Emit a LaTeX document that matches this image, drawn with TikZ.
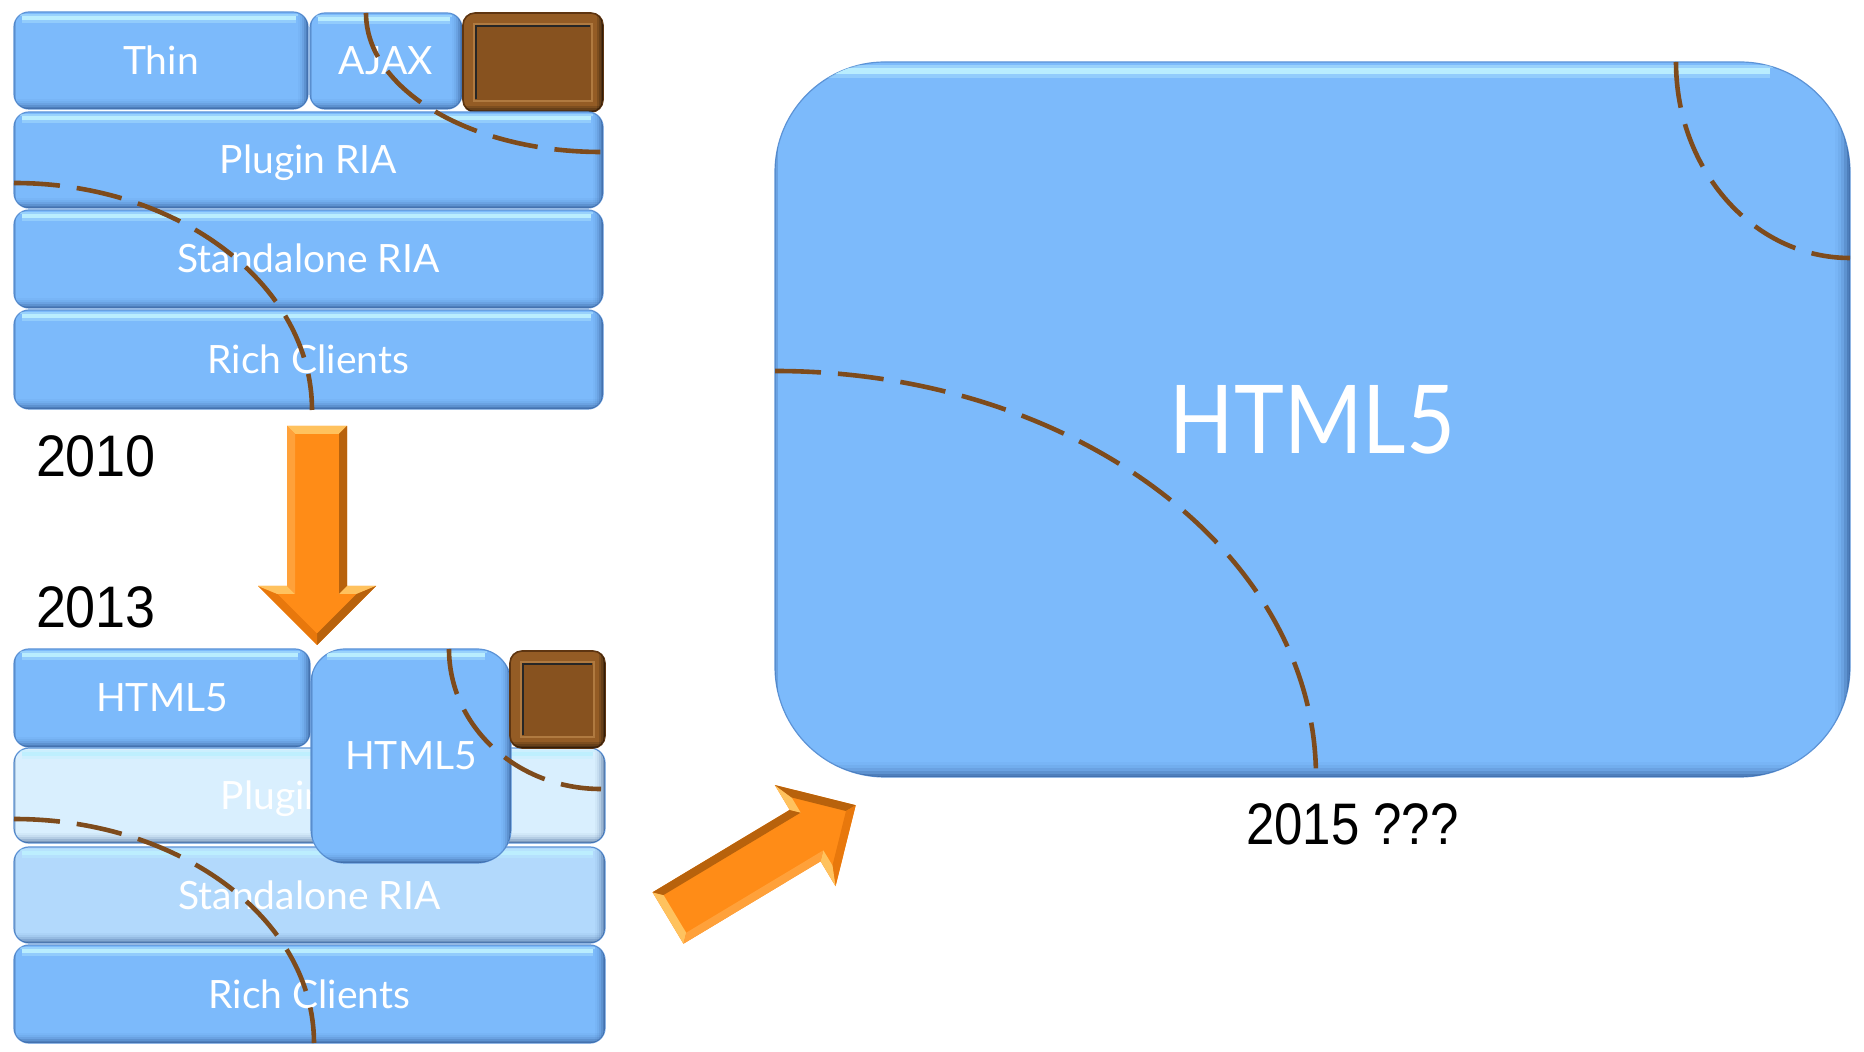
\documentclass[tikz,border=0pt]{standalone}
\usepackage{fontspec}
\setmainfont{Lato}
\newfontfamily\tilefont{Lato}
\newfontfamily\bigfont[FakeStretch=0.89]{Lato}
\newfontfamily\yearfont[FakeStretch=0.92]{Liberation Sans}
\newfontfamily\questfont[FakeStretch=0.87]{Liberation Sans}

\definecolor{tileblue}{HTML}{7CBAFB}
\definecolor{palest}{HTML}{D9EFFE}
\definecolor{pale}{HTML}{B2D9FC}
\definecolor{tileline}{HTML}{5C93D6}
\definecolor{tiledark}{HTML}{22467E}
\definecolor{tilehi}{HTML}{BDF0FF}
\definecolor{brownframe}{HTML}{945C25}
\definecolor{brownface}{HTML}{87521F}
\definecolor{brownline}{HTML}{5E3511}
\definecolor{brownlight}{HTML}{B07A40}
\definecolor{dashbrown}{HTML}{7E4B1C}
\definecolor{arrface}{HTML}{FF8C17}
\definecolor{arrlight}{HTML}{FFC25E}
\definecolor{arrsoft}{HTML}{FFA13A}
\definecolor{arrmid}{HTML}{E8780C}
\definecolor{arrdark}{HTML}{B8620C}

\tikzset{
  tilenode/.style={inner sep=0pt, outer sep=0pt, draw=tileline, line width=0.6pt,
    text=white, font=\tilefont\fontsize{19.5}{20}\selectfont,
    text height=14pt, text depth=0pt},
  dasharc/.style={draw=dashbrown, line width=2.3pt, dash pattern=on 23pt off 8.5pt},
  year/.style={inner sep=0pt, outer sep=0pt, text=black,
    font=\yearfont\fontsize{29.3}{30}\selectfont},
}

% bevelled tile: name, options, x1, y1, x2, y2, corner radius (px), bevel unit (px), text
\newcommand\tile[9]{%
  \node[tilenode, #2, rounded corners={#7*0.5pt},
        minimum width={(#5-#3)*0.5pt}, minimum height={(#6-#4)*0.5pt}]
        (#1) at ({(#3+#5)/2},{(#4+#6)/2}) {#9};
  \begin{scope}
    \clip[rounded corners={#7*0.5pt}] (#3,#4) rectangle (#5,#6);
    \foreach \k/\op in {0/.5,1/.34,2/.2,3/.1,4/.04}{
      \fill[tiledark,opacity=\op] (#3,{#6-(\k+1)*#8}) rectangle (#5,{#6-\k*#8});
      \fill[tiledark,opacity=\op] ({#5-(\k+1)*#8},#4) rectangle ({#5-\k*#8},#6);
    }
    \fill[tiledark,opacity=.2] (#3,#4) rectangle ({#3+#8},#6);
    \fill[tilehi,opacity=.45] ({#3+0.4*#7},{#4+1*#8}) rectangle ({#5-0.7*#7},{#4+2*#8});
    \fill[tilehi,opacity=.95] ({#3+0.4*#7+#8},{#4+2*#8}) rectangle ({#5-0.7*#7-#8},{#4+4*#8});
    \fill[tilehi,opacity=.35] ({#3+0.4*#7+#8},{#4+4*#8}) rectangle ({#5-0.7*#7-#8},{#4+5.5*#8});
  \end{scope}
}

% brown framed square: name, x1, y1, x2, y2
\newcommand\browntile[5]{%
  \node[inner sep=0pt, outer sep=0pt, fill=brownframe, draw=brownline, line width=0.8pt,
        rounded corners=6pt,
        minimum width={(#4-#2)*0.5pt}, minimum height={(#5-#3)*0.5pt}]
        (#1) at ({(#2+#4)/2},{(#3+#5)/2}) {};
  \begin{scope}
    \clip[rounded corners=6pt] (#2,#3) rectangle (#4,#5);
    \foreach \k/\op in {0/.45,1/.3,2/.15}{
      \fill[black,opacity=\op] (#2,{#5-(\k+1)*2}) rectangle (#4,{#5-\k*2});
      \fill[black,opacity=\op] ({#4-(\k+1)*2},#3) rectangle ({#4-\k*2},#5);
    }
  \end{scope}
  \fill[brownface] ({#2+11},{#3+11}) rectangle ({#4-11},{#5-11});
  \draw[brownlight, line width=1pt] ({#2+11},{#3+11}) rectangle ({#4-11},{#5-11});
  \draw[black!85, line width=1.3pt] ({#2+13},{#5-13}) -- ({#2+13},{#3+13}) -- ({#4-13},{#3+13});
}

% bevelled block arrow along local +x, tail centred on the origin
\newcommand\bevelarrow{%
  \fill[arrface] (0,-30) -- (160,-30) -- (160,-59) -- (219,0) -- (160,59) -- (160,30) -- (0,30) -- cycle;
  \fill[arrlight] (0,30) -- (0,-30) -- (8,-22) -- (8,22) -- cycle;
  \fill[arrdark] (0,-30) -- (160,-30) -- (168,-22) -- (8,-22) -- cycle;
  \fill[arrlight] (160,-30) -- (160,-59) -- (168,-39.7) -- (168,-22) -- cycle;
  \fill[arrdark] (160,-59) -- (219,0) -- (207.7,0) -- (168,-39.7) -- cycle;
  \fill[arrmid] (219,0) -- (160,59) -- (168,39.7) -- (207.7,0) -- cycle;
  \fill[arrlight] (160,59) -- (160,30) -- (168,22) -- (168,39.7) -- cycle;
  \fill[arrsoft] (160,30) -- (0,30) -- (8,22) -- (168,22) -- cycle;
}

\begin{document}
\begin{tikzpicture}[x=0.5pt, y=-0.5pt]
\useasboundingbox (0,0) rectangle (1864,1052);

% 2010 stack
\tile{thin}{fill=tileblue}{14}{12}{308}{109}{15}{2}{Thin}
\tile{ajax}{fill=tileblue}{310}{13}{462}{109}{15}{2}{AJAX}
\browntile{topbrown}{463}{13}{603}{112}
\tile{plugin}{fill=tileblue}{14}{112}{603}{208}{15}{2}{Plugin RIA}
\tile{standalone}{fill=tileblue}{14}{210}{603}{308}{15}{2}{Standalone RIA}
\tile{rich}{fill=tileblue}{14}{310}{603}{409}{15}{2}{Rich Clients}

\draw[dasharc] (366,13) .. controls (366,89.8) and (471.2,152) .. (601,152);
\draw[dasharc] (14,183) .. controls (178.6,183) and (312,284.6) .. (312,410);

% years
\node[year, anchor=base west] (y2010) at (36,477) {2010};
\node[year, anchor=base west] (y2013) at (36,628) {2013};

% arrows
\begin{scope}[shift={(317,426)}, rotate=-90]
  \bevelarrow
\end{scope}
\begin{scope}[shift={(668,918)}, rotate=31]
  \bevelarrow
\end{scope}

% 2013 stack
\tile{newhtml}{fill=tileblue}{14}{649}{310}{747}{15}{2}{HTML5}
\tile{oldplugin}{fill=palest}{14}{748}{605}{843}{15}{2}{Plugin RIA}
\tile{oldstand}{fill=pale}{14}{847}{605}{943}{15}{2}{Standalone RIA}
\tile{newrich}{fill=tileblue}{14}{945}{605}{1043}{15}{2}{Rich Clients}
\tile{midhtml}{fill=tileblue}{311}{649}{511}{863}{34}{2}{HTML5}
\browntile{lowbrown}{510}{651}{605}{748}

\draw[dasharc] (449,649) .. controls (449,726.3) and (517,789) .. (601,789);
\draw[dasharc] (14,819) .. controls (179.7,819) and (314,919.3) .. (314,1043);

% 2015
\tile{future}{fill=tileblue, text height=34pt, font=\bigfont\fontsize{47.5}{48}\selectfont}{775}{62}{1850}{777}{110}{3}{HTML5}
\draw[dasharc] (1676,62) .. controls (1676,170.3) and (1753.9,258) .. (1850,258);
\draw[dasharc] (775,371) .. controls (1073.8,371) and (1316,552.8) .. (1316,777);

\node[year, font=\questfont\fontsize{29.3}{30}\selectfont, anchor=base west] (y2015) at (1246,845) {2015 ???};
\end{tikzpicture}
\end{document}
